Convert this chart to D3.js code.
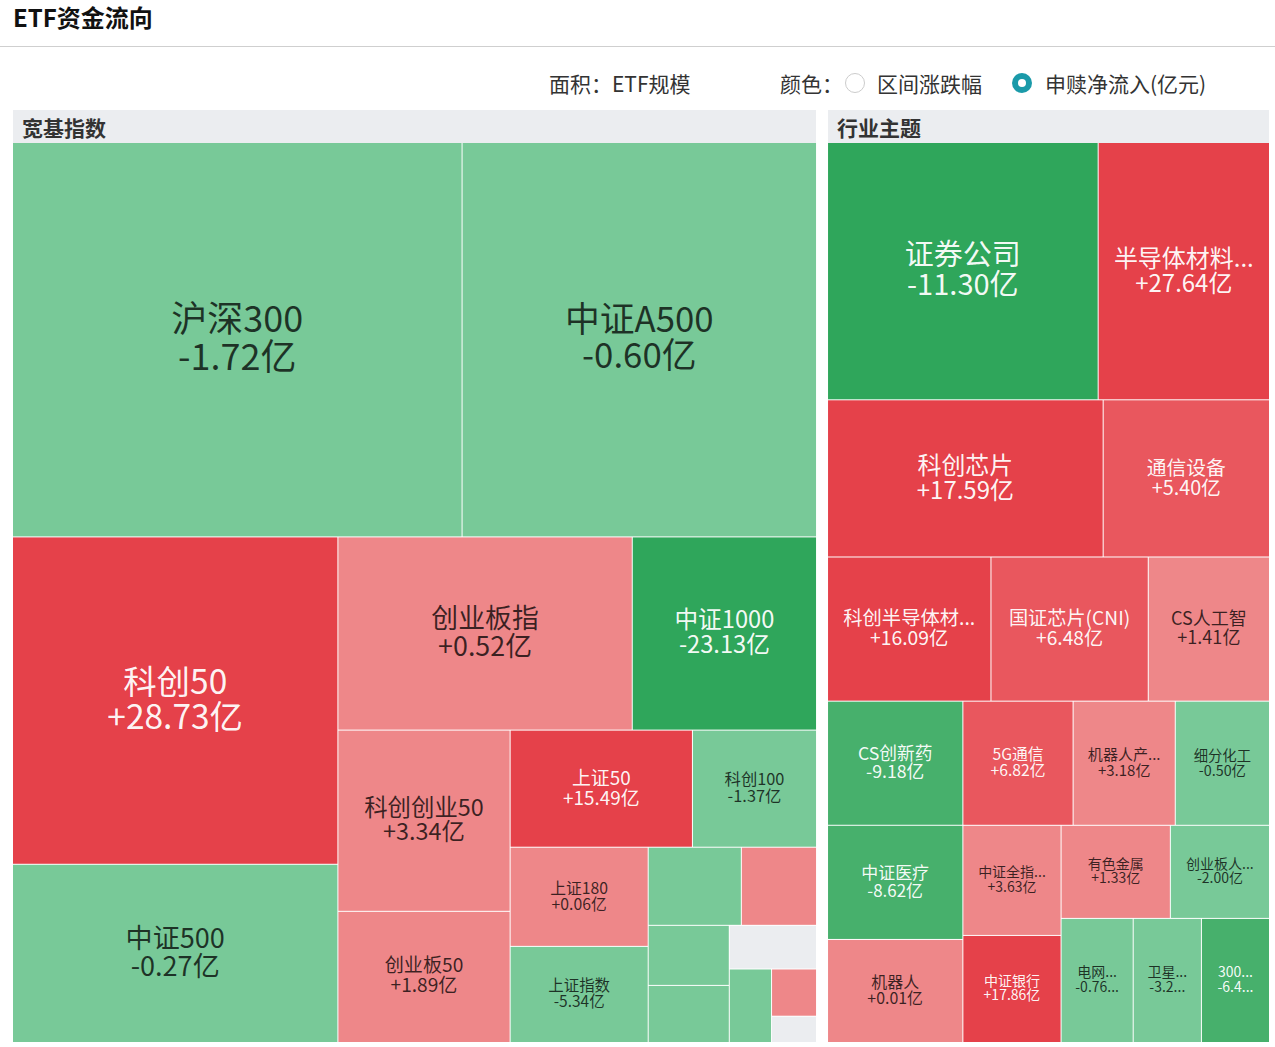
<!DOCTYPE html>
<html>
<head>
<meta charset="utf-8">
<script src="https://cdn.jsdelivr.net/npm/d3@7"></script>
<style>
  html, body { margin: 0; padding: 0; background: #fff; }
  svg { display: block; font-family: "Noto Sans CJK SC", "Noto Sans", sans-serif; }
</style>
</head>
<body>
<svg id="chart" width="1275" height="1047"></svg>
<script>
// ---------------- data ----------------
const chartTitle = 'ETF资金流向';
const groupNames = ['宽基指数', '行业主题'];

// 宽基指数: name, ETF规模 (area), 申赎净流入 (亿元)
const broadNames = ['沪深300', '中证A500', '科创50', '中证500', '创业板指', '中证1000', '科创创业50', '创业板50',
  '上证50', '科创100', '上证180', '上证指数', '深证100', '双创50', '中证800', '中证2000', '深证成指', '科创综指', '创业板综', '北证50'];
const broadScale = [8845, 6974, 5314, 2893, 2837, 1776, 1557, 1127, 1065, 725, 683, 662, 363, 293, 243, 231, 190, 155, 106, 59];
const broadFlow = [-1.72, -0.60, 28.73, -0.27, 0.52, -23.13, 3.34, 1.89, 15.49, -1.37, 0.06, -5.34, -1.20, 0.80, -0.90, -2.10, null, -0.40, 0.30, null];

// 行业主题
const themeNames = ['证券公司', '半导体材料设备', '科创芯片', '通信设备', '科创半导体材料设备', '国证芯片(CNI)', 'CS人工智',
  'CS创新药', '中证医疗', '机器人', '5G通信', '机器人产业', '细分化工', '中证全指半导体', '中证银行', '有色金属',
  '创业板人工智能', '电网设备', '卫星产业', '300医药'];
const themeScale = [3470, 2197, 2159, 1303, 1174, 1130, 871, 837, 770, 695, 682, 632, 583, 539, 524, 507, 460, 446, 422, 421];
const themeFlow = [-11.30, 27.64, 17.59, 5.40, 16.09, 6.48, 1.41, -9.18, -8.62, 0.01, 6.82, 3.18, -0.50, 3.63, 17.86, 1.33,
  -2.00, -0.76, -3.21, -6.43];

const legendArea = '面积：ETF规模';
const legendColor = '颜色：';
const legendOpt1 = '区间涨跌幅';
const legendOpt2 = '申赎净流入(亿元)';

// ---------------- drawing ----------------
(function () {
const svg = d3.select('#chart');

svg.append('text')
  .attr('x', 13).attr('y', 16).attr('dominant-baseline', 'central')
  .attr('font-size', 24).attr('font-weight', 'bold').attr('fill', '#111')
  .text(chartTitle);

svg.append('line').attr('x1', 0).attr('x2', 1275).attr('y1', 46.5).attr('y2', 46.5)
  .attr('stroke', '#cfcfcf').attr('stroke-width', 1);

// legend
const lg = svg.append('g').attr('font-size', 21).attr('fill', '#333');
lg.append('text').attr('x', 549).attr('y', 83).attr('dominant-baseline', 'central').text(legendArea);
lg.append('text').attr('x', 780).attr('y', 83).attr('dominant-baseline', 'central').text(legendColor);
lg.append('circle').attr('cx', 855).attr('cy', 83).attr('r', 9.5).attr('fill', '#fff').attr('stroke', '#cccccc');
lg.append('text').attr('x', 877).attr('y', 83).attr('dominant-baseline', 'central').text(legendOpt1);
lg.append('circle').attr('cx', 1022).attr('cy', 83).attr('r', 10).attr('fill', '#1a9aa9');
lg.append('circle').attr('cx', 1022).attr('cy', 83).attr('r', 4).attr('fill', '#fff');
lg.append('text').attr('x', 1045).attr('y', 83).attr('dominant-baseline', 'central').text(legendOpt2);

// colour scale
const color = d3.scaleThreshold()
  .domain([-10, -6, 0, 5, 10])
  .range(['#2fa65b', '#47b06c', '#78c998', '#ee8789', '#e9575e', '#e5414a']);
const darkText = new Set(['#78c998', '#ee8789']);
const nullColor = '#ebedf0';

const mk = (names, scale, flow) => names.map((n, i) => ({ name: n, size: scale[i], flow: flow[i] }));
const rootData = {
  name: 'root',
  children: [
    { name: groupNames[0], children: mk(broadNames, broadScale, broadFlow) },
    { name: groupNames[1], children: mk(themeNames, themeScale, themeFlow) }
  ]
};

const pLeft = 13, pTop = 110, pRight = 1269, pBottom = 1042, gap = 12, headH = 33;

const root = d3.hierarchy(rootData)
  .sum(d => d.size || 0)
  .sort((a, b) => b.value - a.value);

d3.treemap()
  .tile(d3.treemapSquarify.ratio(1))
  .size([pRight - pLeft - gap, pBottom - pTop])
  .paddingTop(d => d.depth === 1 ? headH : 0)
  .paddingInner(d => d.depth === 1 ? 1 : 0)(root);

// label font size from cell pixel area
const fontFor = d3.scaleLog()
  .domain([8500, 11000, 12400, 17000, 26000, 31000, 44000, 58000, 106000, 177000])
  .range([14, 14, 15, 18, 19.8, 23.5, 24, 27.2, 33.5, 36])
  .clamp(true);

function fitText(sel, str, maxW) {
  sel.text(str);
  if (sel.node().getComputedTextLength() <= maxW) return;
  let s = str;
  while (s.length > 1) {
    s = s.slice(0, -1);
    sel.text(s + '...');
    if (sel.node().getComputedTextLength() <= maxW) return;
  }
}

root.children.forEach((grp, gi) => {
  const g = svg.append('g').attr('transform', `translate(${pLeft + gi * gap},${pTop})`);
  g.append('rect')
    .attr('x', grp.x0).attr('y', grp.y0)
    .attr('width', grp.x1 - grp.x0).attr('height', headH)
    .attr('fill', '#ebedf0');
  g.append('text')
    .attr('x', grp.x0 + 9).attr('y', grp.y0 + 17)
    .attr('dominant-baseline', 'central')
    .attr('font-size', 21).attr('font-weight', 'bold').attr('fill', '#333')
    .text(grp.data.name);

  const cells = g.selectAll('g.cell').data(grp.leaves()).join('g').attr('class', 'cell');
  cells.append('rect')
    .attr('x', d => d.x0).attr('y', d => d.y0)
    .attr('width', d => Math.max(0, d.x1 - d.x0))
    .attr('height', d => Math.max(0, d.y1 - d.y0))
    .attr('fill', d => d.data.flow == null ? nullColor : color(d.data.flow));

  cells.each(function (d) {
    const w = d.x1 - d.x0, h = d.y1 - d.y0, area = w * h;
    if (d.data.flow == null || area < 8000) return;
    const fs = fontFor(area);
    const c = color(d.data.flow);
    const fill = darkText.has(c) ? 'rgba(0,0,0,0.75)' : 'rgba(255,255,255,0.96)';
    const cx = (d.x0 + d.x1) / 2, cy = (d.y0 + d.y1) / 2 - 0.13 * fs;
    const lh = fs * 1.04;
    const valStr = (d.data.flow > 0 ? '+' : '') + d.data.flow.toFixed(2) + '亿';
    const maxW = w - 27;
    const t = d3.select(this).append('text')
      .attr('text-anchor', 'middle').attr('dominant-baseline', 'central')
      .attr('font-size', fs).attr('fill', fill);
    const s1 = t.append('tspan').attr('x', cx).attr('y', cy - lh / 2);
    fitText(s1, d.data.name, maxW);
    const s2 = t.append('tspan').attr('x', cx).attr('y', cy + lh / 2);
    fitText(s2, valStr, maxW);
  });
});
})();
</script>
</body>
</html>
